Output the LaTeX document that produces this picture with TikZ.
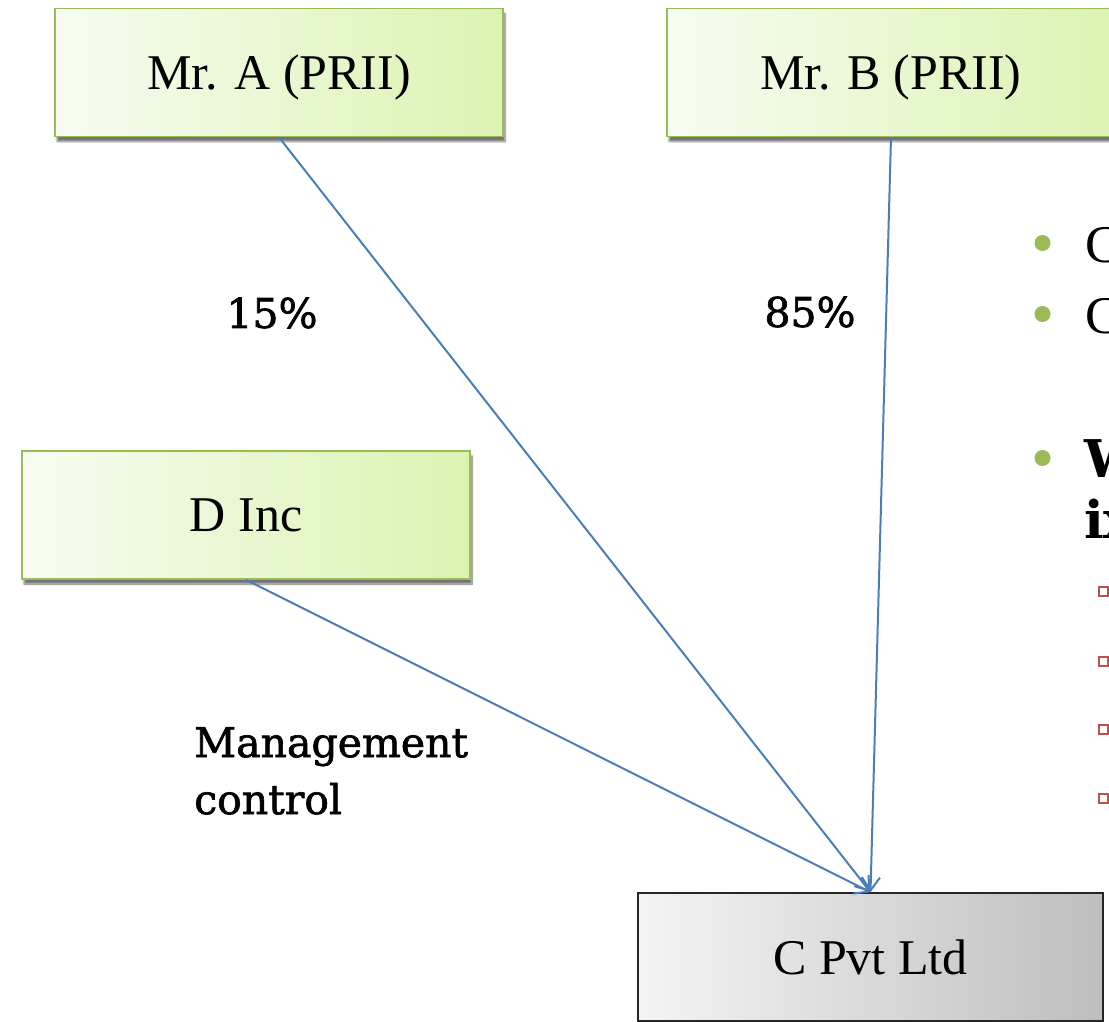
\documentclass[tikz,border=0pt]{standalone}
\usepackage{fontspec}
\setmainfont{Liberation Serif}
\newfontfamily\labelfont{DejaVu Serif}[FakeBold=1.6]
\newfontfamily\headfont{DejaVu Serif}
\usetikzlibrary{arrows.meta,shadows.blur}

\definecolor{boxgreenL}{RGB}{247,252,241}
\definecolor{boxgreenR}{RGB}{219,243,178}
\definecolor{boxedge}{RGB}{155,187,89}
\definecolor{linkblue}{RGB}{74,126,187}
\definecolor{dotgreen}{RGB}{155,187,89}
\definecolor{sqred}{RGB}{192,80,77}
\definecolor{greyL}{RGB}{244,244,244}
\definecolor{greyR}{RGB}{190,190,190}

\tikzset{
  entity/.style={draw=boxedge, line width=1.6pt,
    left color=boxgreenL, right color=boxgreenR,
    minimum width=448pt, minimum height=128pt, inner sep=0pt,
    text depth=0pt,
    font=\fontsize{50}{60}\selectfont,
    blur shadow={shadow xshift=2pt, shadow yshift=-5pt, shadow blur steps=8, shadow opacity=55}},
  company/.style={draw=black!85, line width=1.6pt,
    left color=greyL, right color=greyR,
    minimum width=465pt, minimum height=128pt, inner sep=0pt,
    text depth=0pt,
    font=\fontsize{50}{60}\selectfont},
  link/.style={draw=linkblue, line width=2pt,
    -{Straight Barb[length=13pt,width=18pt,line width=2pt]}},
  lbl/.style={inner sep=0pt, font=\labelfont\fontsize{41}{57}\selectfont},
  bulletdot/.style={fill=dotgreen},
  subsq/.style={draw=sqred, line width=1.5pt},
  slidetext/.style={anchor=base west, inner sep=0pt, font=\fontsize{53}{60}\selectfont},
  slidehead/.style={anchor=base west, inner sep=0pt, font=\headfont\bfseries\fontsize{52}{60}\selectfont}
}

\begin{document}
\begin{tikzpicture}[x=1pt,y=-1pt]
\useasboundingbox (0,0) rectangle (1109,1022);
\clip (0,0) rectangle (1109,1022);

% ownership boxes
\node[entity] (A) at (279,72.5) {Mr. A (PRII)};
\node[entity] (B) at (891,72.5) {Mr. B (PRII)};
\node[entity] (D) at (246,515) {D Inc};

% the company
\node[company] (C) at (870.5,957) {C Pvt Ltd};

% links into the company
\draw[link] (A.south) -- (C.north);
\draw[link] (B.south) -- (C.north);
\draw[link] (D.south) -- (C.north);

% link labels
\node[lbl] (p15) at (272,313) {15\%};
\node[lbl] (p85) at (810,312) {85\%};
\node[lbl, anchor=north west, align=left] (mgmt) at (194,727) {Management\\control};

% bullet list at the right edge
\fill[bulletdot] (1042.5,243) circle (8);
\node[slidetext] (t1) at (1085,262) {C};
\fill[bulletdot] (1042.5,314) circle (8);
\node[slidetext] (t2) at (1085,333) {C};
\fill[bulletdot] (1042.5,458) circle (8);
\node[slidehead] (t3) at (1084,477) {W};
\node[slidehead] (t4) at (1084,538) {ix};

\draw[subsq] (1099,587) rectangle ++(9,9);
\draw[subsq] (1099,657) rectangle ++(9,9);
\draw[subsq] (1099,725) rectangle ++(9,9);
\draw[subsq] (1099,794) rectangle ++(9,9);
\end{tikzpicture}
\end{document}
